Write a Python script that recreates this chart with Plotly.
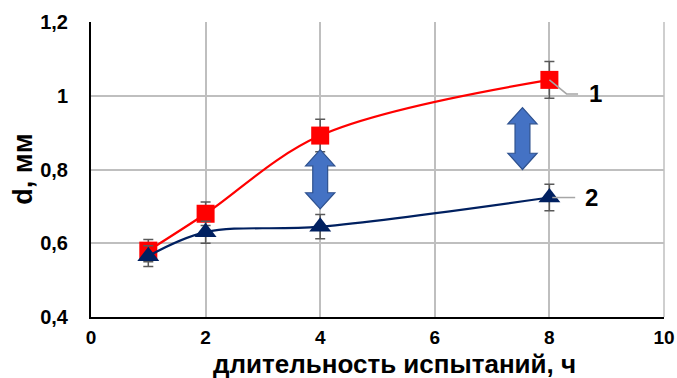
import plotly.graph_objects as go

hours = [1, 2, 4, 8]
d_series1 = [0.58, 0.68, 0.892, 1.043]
err_series1 = [0.03, 0.032, 0.044, 0.05]
d_series2 = [0.565, 0.63, 0.645, 0.724]
err_series2 = [0.028, 0.03, 0.033, 0.036]
series_labels = ["1", "2"]

x_ticks = [0, 2, 4, 6, 8, 10]
y_ticks = [0.4, 0.6, 0.8, 1.0, 1.2]
y_tick_text = ["0,4", "0,6", "0,8", "1", "1,2"]
x_title = "длительность испытаний, ч"
y_title = "d, мм"

# double-arrow annotations: (x center, y bottom, y top)
arrows = [(4.0, 0.693, 0.854), (7.53, 0.80, 0.968)]

FONT = "Liberation Sans, Arial, sans-serif"

fig = go.Figure()
fig.add_trace(go.Scatter(
    x=hours, y=d_series1, mode="lines+markers",
    line=dict(color="#FF0000", width=2.2, shape="spline"),
    marker=dict(symbol="square", size=18, color="#FF0000"),
    error_y=dict(type="data", array=err_series1, color="#595959", thickness=1.5, width=5),
    showlegend=False))
fig.add_trace(go.Scatter(
    x=hours, y=d_series2, mode="lines+markers",
    line=dict(color="#002060", width=2.2, shape="spline"),
    marker=dict(symbol="triangle-up", size=19, color="#002060"),
    error_y=dict(type="data", array=err_series2, color="#595959", thickness=1.5, width=5),
    showlegend=False))


def arrow_path(xc, y0, y1):
    hw, sw, hh = 0.255, 0.13, 0.044
    pts = [(xc, y1), (xc + hw, y1 - hh), (xc + sw, y1 - hh), (xc + sw, y0 + hh),
           (xc + hw, y0 + hh), (xc, y0), (xc - hw, y0 + hh), (xc - sw, y0 + hh),
           (xc - sw, y1 - hh), (xc - hw, y1 - hh)]
    return "M " + " L ".join(f"{px},{py}" for px, py in pts) + " Z"


for xc, y0, y1 in arrows:
    fig.add_shape(type="path", path=arrow_path(xc, y0, y1), xref="x", yref="y",
                  fillcolor="#4472C4", line=dict(color="#2F528F", width=1.2))

# leader lines for labels
fig.add_shape(type="path", xref="x", yref="y",
              path=f"M {hours[-1]},{d_series1[-1]} L {hours[-1]+0.3},{d_series1[-1]-0.038} L {hours[-1]+0.5},{d_series1[-1]-0.038}",
              line=dict(color="#A6A6A6", width=1.5))
fig.add_shape(type="line", xref="x", yref="y",
              x0=hours[-1] + 0.05, x1=hours[-1] + 0.45, y0=d_series2[-1], y1=d_series2[-1],
              line=dict(color="#A6A6A6", width=1.5))
fig.add_annotation(x=hours[-1] + 0.66, y=d_series1[-1] - 0.038, text=series_labels[0],
                   xanchor="left", showarrow=False, font=dict(family=FONT, size=24, color="black", weight="bold"))
fig.add_annotation(x=hours[-1] + 0.58, y=d_series2[-1], text=series_labels[1],
                   xanchor="left", showarrow=False, font=dict(family=FONT, size=24, color="black", weight="bold"))

# axis titles
fig.add_annotation(xref="paper", yref="paper", x=0.529, y=-0.158, yanchor="middle",
                   text=x_title, showarrow=False,
                   font=dict(family=FONT, size=26, color="black", weight="bold"))
fig.add_annotation(xref="paper", yref="paper", x=-0.12, y=0.5, xanchor="center",
                   text=y_title, textangle=-90, showarrow=False,
                   font=dict(family=FONT, size=27, color="black", weight="bold"))

fig.update_layout(
    width=677, height=378,
    margin=dict(l=91, r=13, t=22, b=61),
    paper_bgcolor="white", plot_bgcolor="white",
    font=dict(family=FONT, color="black"),
)
fig.update_xaxes(
    range=[0, 10], tickvals=x_ticks, ticks="", automargin=False,
    showgrid=True, gridcolor="#BFBFBF", gridwidth=1.5,
    showline=True, linecolor="black", linewidth=2, zeroline=False,
    tickfont=dict(family=FONT, size=19, color="black", weight="bold"),
    ticklabelstandoff=2,
)
fig.update_yaxes(
    range=[0.4, 1.2], tickvals=y_ticks, ticktext=y_tick_text, ticks="", automargin=False,
    showgrid=True, gridcolor="#BFBFBF", gridwidth=1.5,
    showline=True, linecolor="black", linewidth=2, zeroline=False,
    tickfont=dict(family=FONT, size=20, color="black", weight="bold"),
    ticklabelstandoff=17,
)
# right grid edge
fig.add_shape(type="line", xref="paper", yref="paper", x0=1, x1=1, y0=0, y1=1,
              line=dict(color="#BFBFBF", width=1.5), layer="below")

fig.write_html("out.html")
